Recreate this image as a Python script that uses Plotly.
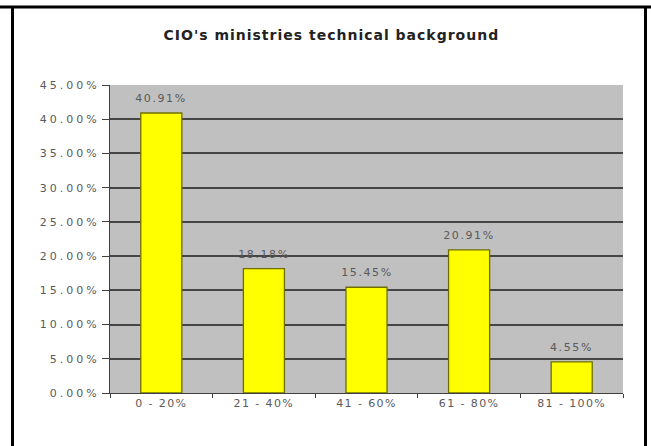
import plotly.graph_objects as go

categories = ["0 - 20%", "21 - 40%", "41 - 60%", "61 - 80%", "81 - 100%"]
values = [40.91, 18.18, 15.45, 20.91, 4.55]
value_labels = ["40.91%", "18.18%", "15.45%", "20.91%", "4.55%"]
y_ticks = [0, 5, 10, 15, 20, 25, 30, 35, 40, 45]
y_tick_labels = ["0.00%", "5.00%", "10.00%", "15.00%", "20.00%", "25.00%",
                 "30.00%", "35.00%", "40.00%", "45.00%"]
title_text = "CIO's ministries technical background"

W, H = 651, 446
L, R, T, B = 110, 28, 85, 53
pw, ph = W - L - R, H - T - B

def px_x(x):
    return (x - L) / pw

def px_y(y):
    return (H - B - y) / ph

FONT = "DejaVu Sans"
text_col = "#5a5a5a"

fig = go.Figure()
fig.add_trace(go.Bar(
    x=categories, y=values,
    marker=dict(color="#FFFF00", line=dict(color="#6E6E00", width=1.3)),
    width=0.4,
    hoverinfo="skip",
))

value_annotations = [
    dict(x=c, y=v, text=t, xref="x", yref="y", xanchor="center", yanchor="bottom",
         yshift=6, showarrow=False, font=dict(family=FONT, size=11, color=text_col))
    for c, v, t in zip(categories, values, value_labels)
]

fig.update_layout(
    width=W, height=H,
    margin=dict(l=L, r=R, t=T, b=B),
    paper_bgcolor="white",
    plot_bgcolor="#C0C0C0",
    showlegend=False,
    font=dict(family=FONT, size=11, color=text_col),
    xaxis=dict(
        showgrid=False, showline=True, linecolor="#404040", linewidth=1,
        ticks="outside", ticklen=4, tickcolor="#404040",
        tickson="boundaries",
        tickfont=dict(family=FONT, size=11, color=text_col),
        fixedrange=True,
    ),
    yaxis=dict(
        range=[0, 45], tickvals=y_ticks, ticktext=y_tick_labels,
        showgrid=True, gridcolor="#454545", gridwidth=1.5,
        showline=True, linecolor="#404040", linewidth=1,
        ticks="outside", ticklen=7, tickcolor="#404040",
        tickfont=dict(family=FONT, size=11, color=text_col),
        zeroline=False, fixedrange=True,
    ),
    annotations=[
        dict(text="<b>" + title_text + "</b>", xref="paper", yref="paper",
             x=px_x(331), y=px_y(35), xanchor="center", yanchor="middle",
             showarrow=False, font=dict(family=FONT, size=14, color="#222222")),
    ] + value_annotations,
    shapes=[
        dict(type="line", xref="paper", yref="paper", x0=px_x(0), x1=px_x(W),
             y0=px_y(7), y1=px_y(7), line=dict(color="black", width=3)),
        dict(type="line", xref="paper", yref="paper", x0=px_x(12.5), x1=px_x(12.5),
             y0=px_y(7), y1=px_y(H + 5), line=dict(color="black", width=3)),
        dict(type="line", xref="paper", yref="paper", x0=px_x(645.5), x1=px_x(645.5),
             y0=px_y(7), y1=px_y(H + 5), line=dict(color="black", width=3)),
    ],
)

post = """
document.body.style.margin = '0';
document.querySelectorAll('.ytick text').forEach(function(t){ t.style.letterSpacing = '3px'; });
var ann = document.querySelectorAll('.annotation-text');
ann.forEach(function(t, i){ t.style.letterSpacing = (i === 0) ? '1px' : '1.6px'; });
document.querySelectorAll('.xtick text').forEach(function(t){ t.style.letterSpacing = '1.4px'; });
"""

fig.write_html("out.html", post_script=post, config={"displayModeBar": False})
